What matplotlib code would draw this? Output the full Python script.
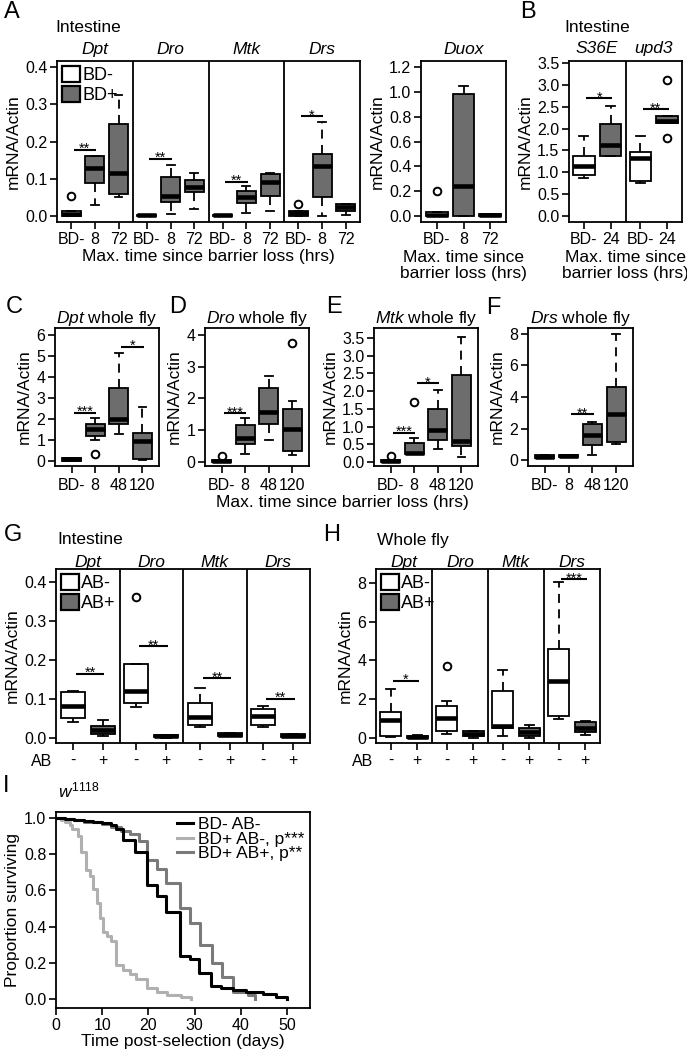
import matplotlib
matplotlib.use('Agg')
import matplotlib.pyplot as plt
import numpy as np
from matplotlib.patches import Patch
from matplotlib.lines import Line2D
from matplotlib.ticker import FormatStrFormatter

plt.rcParams['font.family'] = ['Liberation Sans', 'DejaVu Sans']
plt.rcParams['mathtext.fontset'] = 'custom'
plt.rcParams['mathtext.it'] = 'Liberation Sans:italic'
plt.rcParams['mathtext.rm'] = 'Liberation Sans'
plt.rcParams['axes.linewidth'] = 1.3

# ---- data (whislo, q1, med, q3, whishi) ----
genes = ['Dpt', 'Dro', 'Mtk', 'Drs']
a_labels = ['BD-', '8', '72']
a_stats = [
    [(0.0, 0.0, 0.006, 0.013, 0.013), (0.03, 0.089, 0.128, 0.161, 0.161), (0.052, 0.06, 0.116, 0.246, 0.324)],
    [(0.0, 0.0, 0.002, 0.004, 0.004), (0.006, 0.038, 0.055, 0.105, 0.136), (0.02, 0.065, 0.078, 0.096, 0.116)],
    [(0.0, 0.0, 0.002, 0.004, 0.004), (0.007, 0.035, 0.05, 0.068, 0.08), (0.013, 0.055, 0.09, 0.112, 0.115)],
    [(0.0, 0.0, 0.007, 0.014, 0.014), (0.0, 0.05, 0.135, 0.166, 0.253), (0.004, 0.014, 0.023, 0.031, 0.031)],
]
a_fliers = [[[0.055], [], []], [[], [], []], [[], [], []], [[0.031], [], []]]
a_sig = [(0, 0, 1, 0.178, '**'), (1, 0, 1, 0.154, '**'), (2, 0, 1, 0.092, '**'), (3, 0, 1, 0.268, '*')]

duox_stats = [[(0.0, 0.0, 0.01, 0.035, 0.035), (0.0, 0.0, 0.245, 0.985, 1.05), (0.0, 0.0, 0.005, 0.015, 0.015)]]
duox_fliers = [[[0.2], [], []]]

b_genes = ['S36E', 'upd3']
b_labels = ['BD-', '24']
b_stats = [
    [(0.88, 0.94, 1.15, 1.375, 1.82), (1.38, 1.38, 1.63, 2.11, 2.52)],
    [(0.75, 0.80, 1.32, 1.47, 1.82), (2.12, 2.12, 2.18, 2.28, 2.28)],
]
b_fliers = [[[], []], [[], [3.1, 1.78]]]
b_sig = [(0, 0, 1, 2.69, '*'), (1, 0, 1, 2.44, '**')]

wf_labels = ['BD-', '8', '48', '120']
c_stats = [[(0.0, 0.02, 0.07, 0.14, 0.14), (0.98, 1.18, 1.5, 1.76, 2.03), (1.27, 1.78, 1.98, 3.46, 5.13), (0.03, 0.1, 0.97, 1.33, 2.57)]]
c_fliers = [[[], [0.32], [], []]]
c_sig = [(0, 0, 1, 2.3, '***'), (0, 2, 3, 5.44, '*')]
d_stats = [[(0.0, 0.0, 0.02, 0.06, 0.06), (0.26, 0.55, 0.75, 1.17, 1.37), (0.68, 1.19, 1.56, 2.33, 2.71), (0.23, 0.34, 1.03, 1.67, 1.93)]]
d_fliers = [[[0.17], [], [], [3.76]]]
d_sig = [(0, 0, 1, 1.53, '***')]
e_stats = [[(0.0, 0.0, 0.03, 0.07, 0.07), (0.22, 0.22, 0.25, 0.54, 0.68), (0.37, 0.63, 0.9, 1.49, 2.03), (0.13, 0.44, 0.59, 2.46, 3.52)]]
e_fliers = [[[0.18], [1.7], [], []]]
e_sig = [(0, 0, 1, 0.83, '***'), (0, 1, 2, 2.23, '*')]
f_stats = [[(0.15, 0.15, 0.22, 0.3, 0.3), (0.17, 0.17, 0.24, 0.32, 0.32), (0.32, 0.95, 1.57, 2.29, 2.43), (1.02, 1.12, 2.92, 4.65, 8.0)]]
f_fliers = [[[], [], [], []]]
f_sig = [(0, 1, 2, 2.92, '**')]

ab_labels = ['-', '+']
g_stats = [
    [(0.042, 0.051, 0.083, 0.117, 0.12), (0.005, 0.01, 0.02, 0.03, 0.045)],
    [(0.08, 0.09, 0.12, 0.19, 0.19), (0.0, 0.002, 0.004, 0.007, 0.007)],
    [(0.028, 0.033, 0.053, 0.09, 0.127), (0.004, 0.005, 0.008, 0.012, 0.012)],
    [(0.027, 0.032, 0.057, 0.075, 0.083), (0.002, 0.003, 0.005, 0.009, 0.011)],
]
g_fliers = [[[], []], [[0.36], []], [[], []], [[], []]]
g_sig = [(0, 0, 1, 0.165, '**'), (1, 0, 1, 0.235, '**'), (2, 0, 1, 0.153, '**'), (3, 0, 1, 0.101, '**')]
h_stats = [
    [(0.05, 0.09, 0.95, 1.33, 2.53), (0.0, 0.02, 0.05, 0.12, 0.15)],
    [(0.22, 0.34, 1.03, 1.67, 1.89), (0.0, 0.12, 0.22, 0.34, 0.35)],
    [(0.12, 0.52, 0.6, 2.44, 3.53), (0.0, 0.12, 0.3, 0.5, 0.65)],
    [(1.0, 1.15, 2.93, 4.6, 8.03), (0.15, 0.31, 0.5, 0.83, 0.9)],
]
h_fliers = [[[], []], [[3.73], []], [[], []], [[], []]]
h_sig = [(0, 0, 1, 2.96, '*'), (3, 0, 1, 8.2, '***')]

# survival curves
t_bdm = [0, 2, 4, 6, 8, 10, 12, 13, 14.5, 17, 19.6, 21.8, 23.9, 26.8, 29, 31, 33.6, 35.8, 38.3, 41.2, 44.8, 47.7, 50]
s_bdm = [1, 0.995, 0.99, 0.985, 0.98, 0.97, 0.96, 0.94, 0.88, 0.81, 0.63, 0.57, 0.48, 0.24, 0.22, 0.145, 0.07, 0.06, 0.05, 0.04, 0.03, 0.013, 0.0]
t_abm = [0, 1, 2, 3, 3.5, 4.8, 5.5, 6.5, 7.3, 8, 8.8, 9.5, 10.2, 11, 12, 13.1, 14.5, 16, 17.4, 19.6, 21.8, 24, 27, 29.3]
s_abm = [1, 0.99, 0.98, 0.96, 0.94, 0.90, 0.81, 0.71, 0.68, 0.61, 0.53, 0.45, 0.37, 0.35, 0.32, 0.19, 0.16, 0.14, 0.11, 0.06, 0.04, 0.02, 0.01, 0.0]
t_abp = [0, 2, 4, 6, 8, 10, 12, 14, 16, 18, 19.6, 21.8, 23.9, 26.8, 29, 31.2, 33.8, 36, 38.3, 41.5, 43]
s_abp = [1, 0.995, 0.99, 0.98, 0.975, 0.965, 0.95, 0.93, 0.91, 0.87, 0.77, 0.72, 0.64, 0.50, 0.42, 0.30, 0.20, 0.12, 0.04, 0.02, 0.0]

GRAY = '#6d6d6d'
W, H = 687, 1050
fig = plt.figure(figsize=(W / 100, H / 100), dpi=100)


def axes_px(l, t, r, b):
    return fig.add_axes([l / W, 1 - b / H, (r - l) / W, (b - t) / H])


def ftext(x, y, s, **kw):
    fig.text(x / W, 1 - y / H, s, **kw)


def style(ax, ylim, yticks, fmt):
    ax.set_ylim(*ylim)
    ax.set_yticks(yticks)
    ax.yaxis.set_major_formatter(FormatStrFormatter(fmt))
    ax.tick_params(direction='out', length=5, width=1.2, labelsize=11.5, pad=2)


def draw_groups(ax, stats, fliers, fills, gw, labels):
    n = len(stats[0])
    lo = 1 - (gw - n + 1) / 2
    allpos = []
    for g, grp in enumerate(stats):
        pos = [g * gw + i + 1 for i in range(n)]
        bs = [dict(whislo=s[0], q1=s[1], med=s[2], q3=s[3], whishi=s[4], fliers=f)
              for s, f in zip(grp, fliers[g])]
        res = ax.bxp(bs, positions=pos, widths=0.8, patch_artist=True, capwidths=0.33,
                     boxprops=dict(edgecolor='black', linewidth=1.3),
                     medianprops=dict(color='black', linewidth=3.3, solid_capstyle='butt'),
                     whiskerprops=dict(color='black', linewidth=1.3, linestyle=(0, (5, 3.5))),
                     capprops=dict(color='black', linewidth=1.3),
                     flierprops=dict(marker='o', markerfacecolor='none', markeredgecolor='black',
                                     markersize=5.5, markeredgewidth=1.4))
        for p, fc in zip(res['boxes'], fills):
            p.set_facecolor(fc)
        if g > 0:
            ax.axvline(g * gw + lo, color='black', lw=1.3)
        allpos += pos
    ax.set_xlim(lo, len(stats) * gw + lo)
    ax.set_xticks(allpos)
    ax.set_xticklabels(labels * len(stats))
    return gw


def sig(ax, gw, items):
    for g, i1, i2, y, txt in items:
        x1 = g * gw + i1 + 1.1
        x2 = g * gw + i2 + 1.05
        ax.plot([x1, x2], [y, y], color='black', lw=1.5, solid_capstyle='butt')
        ax.annotate(txt, ((x1 + x2) / 2, y), xytext=(0, -2.5), textcoords='offset points',
                    ha='center', va='baseline', fontsize=10.5)


def group_titles(ax, names, gw, n, y):
    for g, nm in enumerate(names):
        xc = g * gw + (n + 1) / 2
        ax.text(xc, y, nm, transform=ax.get_xaxis_transform(), ha='center', va='center',
                fontsize=12.5, style='italic')


def box_legend(ax, labels):
    ax.legend([Patch(facecolor='white', edgecolor='black', lw=1.6), Patch(facecolor=GRAY, edgecolor='black', lw=1.6)],
              labels, loc='upper left', frameon=False, fontsize=13, handlelength=1.05,
              handleheight=1.0, handletextpad=0.1, labelspacing=0.12, borderaxespad=0.15, borderpad=0.1)


# ---- Panel A ----
ax = axes_px(57, 61, 360, 222)
gw = draw_groups(ax, a_stats, a_fliers, ['white', GRAY, GRAY], 3.2, a_labels)
sig(ax, gw, a_sig)
style(ax, (-0.016, 0.416), np.arange(0, 0.41, 0.1), '%.1f')
ax.set_ylabel('mRNA/Actin', fontsize=12.5, labelpad=3)
ax.set_xlabel('Max. time since barrier loss (hrs)', fontsize=12.5, labelpad=2)
group_titles(ax, genes, gw, 3, 1.07)
box_legend(ax, ['BD-', 'BD+'])

# Duox
ax = axes_px(421, 61, 506, 222)
gw = draw_groups(ax, duox_stats, duox_fliers, ['white', GRAY, GRAY], 3.2, a_labels)
style(ax, (-0.048, 1.248), np.arange(0, 1.21, 0.2), '%.1f')
ax.set_ylabel('mRNA/Actin', fontsize=12.5, labelpad=3)
ax.set_xlabel('Max. time since\nbarrier loss (hrs)', fontsize=12.5, labelpad=2, linespacing=1.1)
group_titles(ax, ['Duox'], gw, 3, 1.07)

# ---- Panel B ----
ax = axes_px(569, 61, 682, 222)
gw = draw_groups(ax, b_stats, b_fliers, ['white', GRAY], 2.1, b_labels)
sig(ax, gw, b_sig)
style(ax, (-0.137, 3.546), np.arange(0, 3.51, 0.5), '%.1f')
ax.set_ylabel('mRNA/Actin', fontsize=12.5, labelpad=3)
ax.set_xlabel('Max. time since\nbarrier loss (hrs)', fontsize=12.5, labelpad=2, linespacing=1.1)
group_titles(ax, b_genes, gw, 2, 1.08)

# ---- Panels C-F ----
cf = [
    ((55, 328, 159, 466), c_stats, c_fliers, c_sig, (-0.24, 6.33), np.arange(0, 7, 1), '%d', 'Dpt'),
    ((205, 328, 309, 466), d_stats, d_fliers, d_sig, (-0.13, 4.22), np.arange(0, 5, 1), '%d', 'Dro'),
    ((374, 328, 478, 466), e_stats, e_fliers, e_sig, (-0.11, 3.78), np.arange(0, 3.6, 0.5), '%.1f', 'Mtk'),
    ((528, 328, 633, 466), f_stats, f_fliers, f_sig, (-0.38, 8.38), np.arange(0, 9, 2), '%d', 'Drs'),
]
for box, st, fl, sg, yl, yt, fmt, gene in cf:
    ax = axes_px(*box)
    gw = draw_groups(ax, st, fl, ['white', GRAY, GRAY, GRAY], 4.4, wf_labels)
    sig(ax, gw, sg)
    style(ax, yl, yt, fmt)
    ax.tick_params(axis='x', pad=3.5)
    ax.set_ylabel('mRNA/Actin', fontsize=12.5, labelpad=3)
    ax.set_title(r'$\mathit{%s}$ whole fly' % gene, fontsize=12.5, pad=3)
ftext(342, 502, 'Max. time since barrier loss (hrs)', fontsize=12.5, ha='center', va='center')

# ---- Panel G ----
ax = axes_px(56, 569, 310, 743)
gw = draw_groups(ax, g_stats, g_fliers, ['white', GRAY], 2.1, ab_labels)
sig(ax, gw, g_sig)
style(ax, (-0.013, 0.433), np.arange(0, 0.41, 0.1), '%.1f')
ax.set_ylabel('mRNA/Actin', fontsize=12.5, labelpad=3)
group_titles(ax, genes, gw, 2, 1.04)
box_legend(ax, ['AB-', 'AB+'])
ftext(42, 761, 'AB', fontsize=11.5, ha='center', va='center')

# ---- Panel H ----
ax = axes_px(376, 569, 600, 743)
gw = draw_groups(ax, h_stats, h_fliers, ['white', GRAY], 2.1, ab_labels)
sig(ax, gw, h_sig)
style(ax, (-0.26, 8.72), np.arange(0, 9, 2), '%d')
ax.set_ylabel('mRNA/Actin', fontsize=12.5, labelpad=3)
group_titles(ax, genes, gw, 2, 1.04)
box_legend(ax, ['AB-', 'AB+'])
ftext(363, 761, 'AB', fontsize=11.5, ha='center', va='center')

# ---- Panel I ----
ax = axes_px(56, 812, 310, 1008)
ax.step(t_abp, s_abp, where='post', color='#7a7a7a', lw=2.2, label='BD+ AB+, p**')
ax.step(t_abm, s_abm, where='post', color='#b0b0b0', lw=2.2, label='BD+ AB-, p***')
ax.step(t_bdm, s_bdm, where='post', color='black', lw=2.2, label='BD- AB-')
ax.set_xlim(0, 55)
ax.set_xticks(np.arange(0, 51, 10))
style(ax, (-0.05, 1.033), np.arange(0, 1.01, 0.2), '%.1f')
ax.set_xlabel('Time post-selection (days)', fontsize=12.5, labelpad=1)
ax.set_ylabel('Proportion surviving', fontsize=12.5, labelpad=3)
h, l = ax.get_legend_handles_labels()
ax.legend(h[::-1], l[::-1], loc='upper right', frameon=False, fontsize=12.5, handlelength=0.9,
          handletextpad=0.3, labelspacing=-0.05, borderaxespad=0.2, borderpad=0.1)
ftext(58, 790, r'$\mathit{w}^{\mathit{1118}}$', fontsize=12.5, ha='left', va='center')

# ---- labels ----
for lt, x, y in [('A', 4, 12), ('B', 520, 12), ('C', 6, 307), ('D', 169, 307), ('E', 326, 307),
                 ('F', 486, 308), ('G', 4, 535), ('H', 323, 535), ('I', 3, 786)]:
    ftext(x, y, lt, fontsize=17, ha='left', va='center')
ftext(55, 27, 'Intestine', fontsize=12.5, ha='left', va='center')
ftext(564, 27, 'Intestine', fontsize=12.5, ha='left', va='center')
ftext(57, 540, 'Intestine', fontsize=12.5, ha='left', va='center')
ftext(377, 540, 'Whole fly', fontsize=12.5, ha='left', va='center')

fig.savefig('out.png', dpi=100)
